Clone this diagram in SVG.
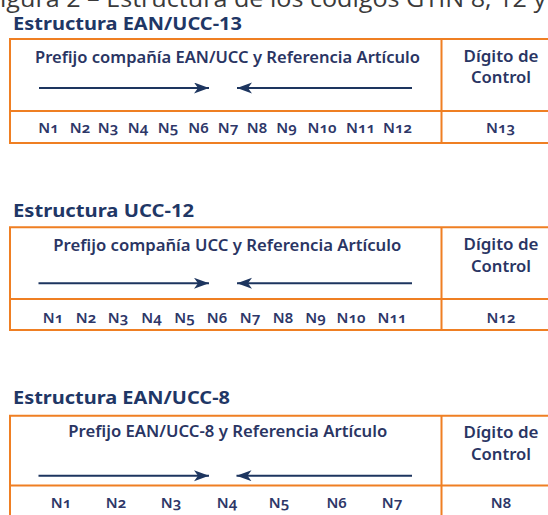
<svg xmlns="http://www.w3.org/2000/svg" width="548" height="515" viewBox="0 0 548 515">
<style>
.cap{font-family:"Open Sans","Noto Sans",sans-serif;font-size:24px;fill:#3a3a3a}
.ttl{font-family:"Noto Sans","Open Sans",sans-serif;font-weight:700;font-size:18px;fill:#1f3766}
.hd{font-family:"Noto Sans","Open Sans",sans-serif;font-weight:600;font-size:15.5px;fill:#2a3563}
.dc{font-family:"Noto Sans","Open Sans",sans-serif;font-weight:600;font-size:16px;fill:#2a3563;text-anchor:middle}
.n{font-family:"Noto Sans","Open Sans",sans-serif;font-weight:600;font-size:15px;fill:#2e3768;text-anchor:middle;font-variant-numeric:oldstyle-nums}
.box{fill:none;stroke:#ef7f23;stroke-width:2}
.arr{stroke:#1d355f;stroke-width:2;fill:none;marker-end:url(#ah)}
</style>
<defs>
<marker id="ah" markerUnits="userSpaceOnUse" markerWidth="16" markerHeight="12" refX="15" refY="5.5" orient="auto">
<path d="M0,0 L15,5.5 L0,11 L4,5.5 Z" fill="#1d355f"/>
</marker>
</defs>
<rect width="548" height="515" fill="#ffffff"/>
<text class="cap" x="0" y="7" textLength="546" lengthAdjust="spacingAndGlyphs">igura 2 – Estructura de los códigos GTIN 8, 12 y</text>

<g id="ean13">
<text class="ttl" x="13" y="30" textLength="229" lengthAdjust="spacingAndGlyphs">Estructura EAN/UCC-13</text>
<path class="box" d="M560,39 H10 V143 H560 M10,111 H560 M441.5,39 V143"/>
<text class="hd" x="35" y="63" textLength="385" lengthAdjust="spacingAndGlyphs">Prefijo compañía EAN/UCC y Referencia Artículo</text>
<text class="dc" x="501" y="62.3" textLength="75" lengthAdjust="spacingAndGlyphs">Dígito de</text>
<text class="dc" x="501" y="83.3" textLength="60" lengthAdjust="spacingAndGlyphs">Control</text>
<text class="n" y="133"><tspan x="48.5">N1</tspan><tspan x="80">N2</tspan><tspan x="108">N3</tspan><tspan x="138">N4</tspan><tspan x="168">N5</tspan><tspan x="198.5">N6</tspan><tspan x="228">N7</tspan><tspan x="257">N8</tspan><tspan x="286.5">N9</tspan><tspan x="322">N10</tspan><tspan x="360.5">N11</tspan><tspan x="397.5">N12</tspan></text>
<text class="n" x="500.5" y="133">N13</text>
</g>

<g id="ucc12">
<text class="ttl" x="13" y="216.7" textLength="181" lengthAdjust="spacingAndGlyphs">Estructura UCC-12</text>
<path class="box" d="M560,227.3 H10 V330 H560 M10,299 H560 M441.5,227.3 V330"/>
<text class="hd" x="53.3" y="250.7" textLength="348" lengthAdjust="spacingAndGlyphs">Prefijo compañía UCC y Referencia Artículo</text>
<text class="dc" x="501" y="250" textLength="75" lengthAdjust="spacingAndGlyphs">Dígito de</text>
<text class="dc" x="501" y="271.7" textLength="60" lengthAdjust="spacingAndGlyphs">Control</text>
<text class="n" y="322.5"><tspan x="53">N1</tspan><tspan x="86">N2</tspan><tspan x="118">N3</tspan><tspan x="151.5">N4</tspan><tspan x="184.5">N5</tspan><tspan x="217">N6</tspan><tspan x="250">N7</tspan><tspan x="283">N8</tspan><tspan x="315.5">N9</tspan><tspan x="351">N10</tspan><tspan x="392">N11</tspan></text>
<text class="n" x="501" y="322.5">N12</text>
</g>

<g id="ean8">
<text class="ttl" x="13" y="404" textLength="217" lengthAdjust="spacingAndGlyphs">Estructura EAN/UCC-8</text>
<path class="box" d="M560,415.7 H10 V518 H560 M10,485.5 H560 M441.5,415.7 V518"/>
<text class="hd" x="68.3" y="437.3" textLength="319" lengthAdjust="spacingAndGlyphs">Prefijo EAN/UCC-8 y Referencia Artículo</text>
<text class="dc" x="501" y="438.3" textLength="75" lengthAdjust="spacingAndGlyphs">Dígito de</text>
<text class="dc" x="501" y="460" textLength="60" lengthAdjust="spacingAndGlyphs">Control</text>
<text class="n" y="508.3"><tspan x="61">N1</tspan><tspan x="116">N2</tspan><tspan x="171">N3</tspan><tspan x="227">N4</tspan><tspan x="279">N5</tspan><tspan x="336.7">N6</tspan><tspan x="392">N7</tspan></text>
<text class="n" x="501" y="508.3">N8</text>
</g>

<g id="connectors">
<line class="arr" x1="39" y1="88" x2="209" y2="88"/>
<line class="arr" x1="412" y1="88" x2="237" y2="88"/>
<line class="arr" x1="38.5" y1="283.3" x2="209" y2="283.3"/>
<line class="arr" x1="412" y1="283.3" x2="237" y2="283.3"/>
<line class="arr" x1="38.5" y1="475.7" x2="209" y2="475.7"/>
<line class="arr" x1="412" y1="475.7" x2="236.5" y2="475.7"/>
</g>
</svg>
